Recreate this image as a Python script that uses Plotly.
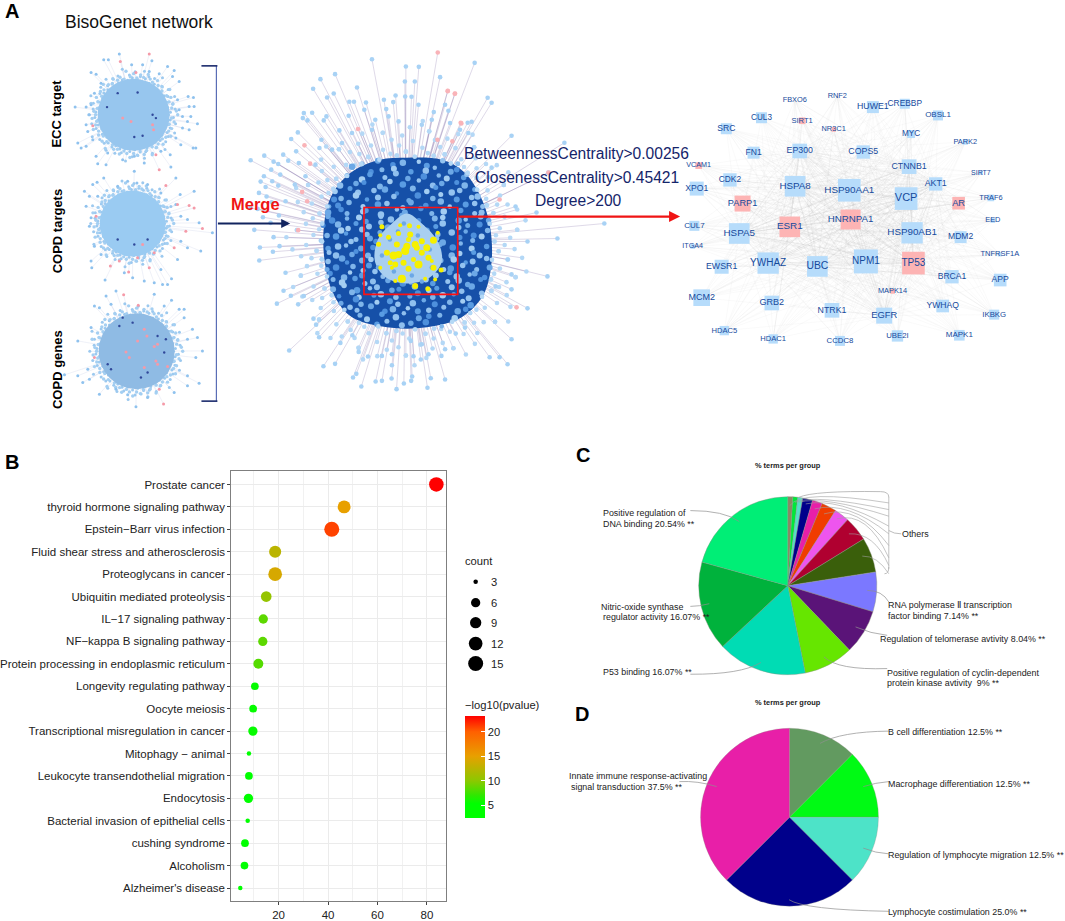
import numpy as np
import plotly.graph_objects as go

W, H = 1065, 921

# ---------- Panel B data ----------
terms = ["Prostate cancer", "thyroid hormone signaling pathway", "Epstein−Barr virus infection",
         "Fluid shear stress and atherosclerosis", "Proteoglycans in cancer", "Ubiquitin mediated proteolysis",
         "IL−17 signaling pathway", "NF−kappa B signaling pathway", "Protein processing in endoplasmic reticulum",
         "Longevity regulating pathway", "Oocyte meiosis", "Transcriptional misregulation in cancer",
         "Mitophagy − animal", "Leukocyte transendothelial migration", "Endocytosis",
         "Bacterial invasion of epithelial cells", "cushing syndrome", "Alcoholism", "Alzheimer's disease"]
enrichment = [83.8, 46.5, 41.5, 18.6, 18.6, 15, 13.8, 13.6, 11.8, 10.4, 9.7, 9.6, 8, 8, 7.8, 7.5, 6.4, 6.2, 4.5]
counts = [14, 11, 16, 10, 12, 8, 6, 6, 7, 5, 5, 6, 3, 5, 6, 3, 5, 5, 3]
neglogp = [23.2, 15, 21, 12.5, 14, 10.5, 8.5, 8.5, 8.2, 5.5, 5.5, 5.5, 4, 4.5, 5, 3.5, 3.5, 3.5, 3.5]
legend_counts = [3, 6, 9, 12, 15]
legend_diams = [4.5, 9.3, 11.3, 13.7, 15]
legend_y = [583, 604, 624, 645, 665]

# ---------- Panel C / D data ----------
c_values = [0.89, 0.89, 0.89, 1.79, 1.79, 2.68, 2.68, 4.46, 6.25, 7.14, 8.04, 8.93, 16.07, 16.07, 20.54]
c_colors = ["#8a8a62", "#00e83a", "#55e0c8", "#00008b", "#e81fa8", "#f03c00", "#ee55ee", "#b00030",
            "#3a5f0b", "#7b78ff", "#5a1478", "#66e600", "#00dcb4", "#00b23c", "#00ee76"]
d_values = [12.5, 12.5, 12.5, 25.0, 37.5]
d_colors = ["#629a60", "#00fa14", "#4de3c8", "#00008b", "#e81fa8"]

# ---------- Panel A: hub network ----------
nodes = [("FBXO6",462,90,0,"b",7.4),("RNF2",590,79,0,"b",7.4),("HUWE1",697,112,36,"b",8.8),("CREBBP",793,102,30,"b",8.4),
 ("OBSL1",893,137,30,"b",8),("SRC",256,177,33,"b",8.6),("CUL3",362,144,33,"b",8.2),("SIRT1",484,153,20,"p",7.6),
 ("NR3C1",579,179,14,"p",7.4),("MYC",812,193,24,"b",8.2),("PARK2",975,217,16,"b",7.4),("FN1",338,249,36,"b",8.6),
 ("EP300",477,244,44,"b",8.8),("COPS5",668,247,40,"b",8.8),("CTNNB1",806,291,44,"b",8.8),("SIRT7",1022,310,12,"b",7),
 ("VCAM1",173,288,20,"p",7.2),("CDK2",267,331,40,"b",8.4),("XPO1",167,357,42,"b",8.6),("HSPA8",463,350,62,"b",9.8),
 ("HSP90AA1",626,362,68,"b",9.9),("AKT1",886,343,40,"b",8.8),("VCP",797,387,68,"b",11),("AR",955,401,38,"p",9.2),
 ("TRAF6",1052,385,20,"b",7.4),("PARP1",305,402,48,"p",9.2),("ESR1",447,472,62,"p",9.9),("HNRNPA1",630,450,60,"p",9.7),
 ("HSPA5",295,492,62,"b",9.8),("HSP90AB1",815,490,64,"b",9.8),("MDM2",961,503,36,"b",8.6),("EED",1058,453,14,"b",7.4),
 ("CUL7",160,469,30,"b",8),("ITGA4",155,531,14,"b",7.2),("TNFRSF1A",1079,555,12,"b",7.5),("EWSR1",242,592,42,"b",8.8),
 ("YWHAZ",382,581,64,"b",10),("UBC",530,591,62,"b",10.4),("NPM1",676,576,72,"b",10),("TP53",819,581,68,"p",10),
 ("BRCA1",935,622,40,"b",8.6),("APP",1080,632,38,"b",8.6),("MCM2",182,685,50,"b",9),("GRB2",393,701,44,"b",9),
 ("NTRK1",574,723,44,"b",8.8),("MAPK14",756,666,14,"p",7.4),("EGFR",731,739,48,"b",9.4),("YWHAQ",907,710,38,"b",8.6),
 ("IKBKG",1062,736,30,"b",7.8),("HDAC5",250,784,28,"b",7.6),("HDAC1",397,809,28,"b",7.6),("CCDC8",598,815,30,"b",7.8),
 ("UBE2I",771,800,34,"b",7.8),("MAPK1",957,798,32,"b",8)]
hubs = ["HSP90AA1","HSP90AB1","VCP","NPM1","TP53","ESR1","HNRNPA1","HSPA5","HSPA8","YWHAZ","UBC","EGFR","EP300","CTNNB1","AKT1"]

merged_top = [(420,28),(522,50),(561,51),(625,82),(519,95),(549,95),(265,88),(309,73),(243,117),(375,113),(285,143),(305,131),
 (491,137),(539,141),(352,156),(366,156),(402,158),(456,150),(484,157),(215,190),(240,189),(212,205),(226,212),(283,200),(275,212),
 (350,198),(397,180),(463,178),(606,187),(650,183),(197,248),(177,268),(268,270),(192,305),(262,295),(322,242),(55,332),(96,318),
 (153,315),(124,336),(168,333),(117,360),(138,343),(144,375),(95,380),(120,395),(85,396),(100,412),(138,408),(188,405),(80,430),
 (103,441),(118,458),(160,455),(200,340),(76,478),(54,475),(92,503),(140,498),(115,520),(640,165),(655,220),(685,240),(710,250),
 (430,210),(520,140),(560,165),(600,210),(470,200),(330,280),(300,300),(250,345),(220,380),(360,250),(420,240),(500,215),(570,225)]
merged_top_pink = [(618,8),(648,124),(670,131),(689,221),(217,287),(378,238),(234,342),(210,427),(225,455),(617,270),(662,275)]
merged_bot = [(66,31),(124,53),(83,84),(142,80),(122,97),(81,123),(160,160),(154,214),(176,229),(134,253),(198,255),(215,230),(244,298),
 (252,316),(261,354),(171,394),(274,441),(309,434),(325,371),(361,348),(380,398),(408,412),(450,410),(480,405),(480,438),(363,475),
 (373,464),(388,502),(431,487),(450,485),(479,478),(494,510),(516,493),(538,485),(541,472),(587,506),(597,477),(640,481),(545,411),
 (567,421),(590,405),(629,410),(640,390),(570,375),(537,365),(672,343),(700,325)]
merged_bot_pink = [(198,32)]
merged_right = [(510,136),(563,143),(490,168),(547,173),(535,213),(603,224),(556,239),(546,277),(526,309),(506,365),(488,358),
 (498,358),(526,242),(510,275),(494,287),(510,290),(514,207),(466,123),(470,122),(486,98),(473,63),(490,103),(506,260),(510,340)]
merged_right_pink = [(515,308),(498,200),(547,173),(459,123),(453,94),(446,91)]

dark_outline = [(404,158),(440,160),(462,172),(478,195),(488,225),(490,262),(482,295),(460,318),(425,328),(385,328),
                (350,318),(333,298),(323,265),(322,225),(330,195),(350,172),(378,160)]
inner_outline = [(405,214),(420,224),(436,242),(440,262),(428,278),(405,284),(384,278),(373,262),(376,240),(390,224)]
inner_specks = [(388,240),(396,232),(416,236),(428,250),(380,256),(392,272),(410,276),(430,268),(402,224),(376,268),(420,282),(398,256)]

core_rows = {
 163:[362,375,388,402,415,428,441,454],
 170:[352,368,381,394,408,421,434,447,458],
 177:[345,358,370,382,395,408,421,434,446,460,468],
 184:[338,352,364,377,389,403,416,428,441,453,466],
 191:[333,346,358,371,384,397,410,422,435,448,461,473],
 198:[330,341,353,366,378,391,404,417,429,442,455,468,478],
 205:[326,337,349,360,373,386,399,412,424,437,450,463,474,483],
 212:[325,336,346,359,367,379,393,405,418,431,444,458,470,481],
 219:[324,333,345,355,366,378,390,402,416,430,442,455,467,479,485],
 226:[323,335,347,356,366,376,387,398,409,420,432,443,456,467,480],
 233:[324,336,345,358,368,378,390,402,414,426,438,449,461,473,484],
 240:[322,334,347,356,367,375,386,397,408,421,433,444,458,469,482],
 247:[325,337,346,358,368,379,392,404,416,428,440,450,460,472,484],
 254:[324,335,348,357,366,377,388,400,412,424,436,447,459,470,481],
 261:[326,338,347,359,370,381,394,406,418,430,442,452,462,473,484],
 268:[326,336,350,358,368,380,392,404,416,428,441,450,463,474,485],
 275:[329,340,351,360,371,383,396,409,421,433,445,456,466,476,483],
 282:[329,342,352,364,373,385,398,410,422,434,446,455,468,478],
 289:[332,344,354,365,376,388,400,413,425,437,449,461,472],
 296:[336,347,358,370,382,394,406,418,430,442,454,466,477],
 303:[340,352,362,375,386,398,410,423,435,447,458,470],
 310:[346,358,369,381,393,405,417,429,441,453,465],
 317:[356,368,380,392,404,416,428,440,452],
 324:[372,386,398,412,424,438],
}
jit_x = [-2, 1, 3, -1, 2, -3, 0, 2, -2, 1, -1]
jit_y = [1, -2, 2, 0, -1, 3, -2, 1, -3, 2, 0, -1, 2]
core_sizes = [5, 6, 5.5, 6.5, 4.5, 6, 5.5, 5, 6.5, 5.5]
core_cols = ["#8fbfee", "#6ca8e6", "#4e90dc", "#7fb5ea", "#a3cdf2", "#5a9ce2", "#94c3f0"]
rim_offsets = [2, 12, 22, 6, 30, 16, 0, 36, 9, 26, 4, 18]

merged_yellow = [(450,22),(505,17),(533,19),(560,22),(605,62),(445,47),(470,53),(500,42),(535,45),(570,65),(618,40),(440,74),(495,75),
 (525,80),(550,75),(585,85),(520,95),(485,108),(465,100),(500,105),(445,145),(475,130),(490,135),(515,130),(560,135),(590,115),(605,145),
 (628,152),(530,148),(510,178),(550,200),(588,208),(490,185),(580,178),(610,180),(480,145),(600,125),(545,120),(570,100),(530,60),(555,85)]
yellow_sizes = [5,4,5,4,7,4,5,5,6,6,4,5,6,7,7,7,8,8,6,7,4,5,6,6,8,6,6,5,6,8,6,5,4,4,4,4,4,5,6,5,6]

ecc_nodes = [(130,68),(145,73),(168,30),(182,30),(215,12),(252,45),(285,45),(313,33),(360,50),(380,62),(375,80),(335,72),(305,65),(395,95),
 (160,100),(130,165),(115,172),(82,172),(125,195),(115,225),(90,280),(100,295),(115,290),(145,320),(150,342),(175,345),(225,330),(290,340),
 (370,352),(368,315),(400,285),(437,295),(445,295),(422,140),(438,143),(425,170),(440,170),(430,200),(450,222),(425,240),(405,235),(420,215),
 (140,130),(390,150),(395,180),(405,200),(120,245),(135,270),(180,310),(260,320),(340,305),(385,265)]
ecc_pink = [(218,35),(305,12),(265,68),(135,228),(335,360),(325,315),(318,240),(315,225),(250,215),(225,205)]
ecc_dark = [(315,195),(325,205),(260,262),(285,258),(210,130),(270,128),(178,172)]
tgt_nodes = [(168,385),(148,398),(240,395),(260,365),(268,400),(385,385),(398,435),(440,425),(110,425),(125,440),(135,405),(115,470),
 (130,505),(125,530),(385,465),(400,500),(420,510),(150,440),(340,430),(300,405),(210,410),(455,520)]
tgt_pink = [(355,408),(390,465),(425,468),(440,475),(465,537),(145,500)]
tgt_nodes2 = [(130,95),(132,115),(172,152),(255,145),(290,155),(320,160),(345,165),(372,148),(360,165),(390,90),(420,55),(460,65),(495,10),
 (140,50),(160,75),(230,130),(340,120),(400,35)]
tgt_pink2 = [(188,110),(215,95),(243,128),(305,115),(380,55),(415,5),(270,85),(320,70),(285,45)]
tgt_dark2 = [(210,30),(260,45),(300,30)]
gen_nodes = [(175,200),(205,185),(140,230),(155,235),(320,195),(372,213),(410,240),(395,240),(410,265),(90,335),(435,300),(450,325),(465,365),
 (445,385),(50,437),(90,440),(105,460),(125,450),(155,495),(240,497),(265,533),(455,462),(420,470),(380,490),(130,295),(420,330),(190,225),
 (350,230),(300,505),(205,480),(420,440),(120,420)]
gen_pink = [(228,196),(272,228),(335,480),(348,525),(140,385),(320,352),(330,345),(235,368),(245,385),(325,395),(330,405),(360,412),(290,300),
 (298,320),(270,335),(290,415)]
gen_dark = [(190,420),(300,430),(350,370),(330,320),(215,290),(255,280),(225,265),(355,330),(180,405),(280,445)]


def px(x, y):
    return x / W, 1 - y / H


def crop(pts, ox, oy, sx=3.0, sy=3.0):
    return [(ox + p[0] / sx, oy + p[1] / sy) for p in pts]


fig = go.Figure()
OV = dict(xaxis="x2", yaxis="y2", hoverinfo="skip", showlegend=False)


def dots(pts, color, size, opacity=1.0):
    fig.add_trace(go.Scatter(x=[p[0] for p in pts], y=[p[1] for p in pts], mode="markers",
                             marker=dict(color=color, size=size, opacity=opacity, line=dict(width=0)), **OV))


def spokes(pts, cx, cy, color, width=0.8):
    xs, ys = [], []
    for p in pts:
        xs += [p[0], cx, None]
        ys += [p[1], cy, None]
    fig.add_trace(go.Scatter(x=xs, y=ys, mode="lines", line=dict(color=color, width=width), **OV))


def blob(outline, color):
    pts = outline + outline[:1]
    fig.add_trace(go.Scatter(x=[p[0] for p in pts], y=[p[1] for p in pts], mode="lines", fill="toself", fillcolor=color,
                             line=dict(color=color, width=0, shape="spline", smoothing=1), **OV))


def ring(cx, cy, r, step, spread, offs):
    out = []
    for k, a in enumerate(range(0, 360, step)):
        rr = r + spread * offs[k % len(offs)]
        out.append((cx + rr * np.cos(np.radians(a)), cy + rr * np.sin(np.radians(a))))
    return out


LB = "#a8d2f5"
small = [
    (crop(ecc_nodes, 45, 50), crop(ecc_pink, 45, 50), crop(ecc_dark, 45, 50), (131, 115), "#97c6ee", 72),
    (crop(tgt_nodes, 45, 50) + crop(tgt_nodes2, 45, 230), crop(tgt_pink, 45, 50) + crop(tgt_pink2, 45, 230),
     crop(tgt_dark2, 45, 230), (130, 224), "#9acbf2", 66),
    (crop(gen_nodes, 45, 230), crop(gen_pink, 45, 230), crop(gen_dark, 45, 230), (134, 352), "#8fbbe4", 76),
]
fine_offs = [0, 5, 2, 8, 1, 4, 10, 3, 6, 0, 7, 2, 12]
for n, pk, dk, c, col, d in small:
    rim = ring(c[0], c[1], d / 2 - 1, 4, 1.0, fine_offs)
    spokes(n + pk + rim, c[0], c[1], "rgba(150,160,205,0.25)", 0.6)
    dots(rim, "#9cc9ef", 3.0)
    dots(ring(c[0], c[1], d / 2 + 1, 5, 0.6, fine_offs[::-1]), "#a4cff2", 3.4)
    dots([c], col, d)
    dots(n, "#8fc2ee", 3.0)
    dots(pk, "#f59aa8", 3.0)
    dots(dk, "#30489a", 2.4)

# Merged network
mc = (404, 242)
m_nodes = crop(merged_top, 230, 50) + crop(merged_bot, 230, 220) + merged_right
m_pink = crop(merged_top_pink, 230, 50) + crop(merged_bot_pink, 230, 220) + merged_right_pink
outline_ang = np.degrees(np.arctan2([p[1] - mc[1] for p in dark_outline], [p[0] - mc[0] for p in dark_outline])) % 360
outline_rad = np.hypot([p[0] - mc[0] for p in dark_outline], [p[1] - mc[1] for p in dark_outline])
order = np.argsort(outline_ang)
halo = []
for k, a in enumerate(range(0, 360, 2)):
    rr = np.interp(a, outline_ang[order], outline_rad[order], period=360) + rim_offsets[k % len(rim_offsets)]
    halo.append((mc[0] + rr * np.cos(np.radians(a)), mc[1] + rr * np.sin(np.radians(a))))
spokes(m_nodes + m_pink + halo, mc[0], mc[1], "rgba(115,95,160,0.30)", 0.8)
dots(halo, "#b4d8f6", 4.6)
blob(dark_outline, "#1650a8")
core = []
for y, xs in core_rows.items():
    for x in xs:
        i = len(core)
        core.append((x + jit_x[i % len(jit_x)], y + jit_y[i % len(jit_y)]))
cs = [core_sizes[i % len(core_sizes)] for i in range(len(core))]
cc = [core_cols[i % len(core_cols)] for i in range(len(core))]
fig.add_trace(go.Scatter(x=[p[0] for p in core], y=[p[1] for p in core], mode="markers",
                         marker=dict(color=cc, size=cs, opacity=1, line=dict(width=0)), **OV))
dots(halo[::3], "#b4d8f6", 4.6)
blob(inner_outline, "#a9cff0")
dots(inner_specks, "#6ca8e6", 4.5)
dots(m_nodes, LB, 4.6)
dots(m_pink, "#f9b3b8", 4.6)
dots(crop(merged_yellow, 230, 220), "#f6f000", yellow_sizes)

# Hub network
names = [n[0] for n in nodes]
nx = [640 + n[1] / 3 for n in nodes]
ny = [70 + n[2] / 3 for n in nodes]
ex, ey = [], []
for h in hubs:
    i = names.index(h)
    for j in range(len(nodes)):
        if j != i:
            ex += [nx[i], nx[j], None]
            ey += [ny[i], ny[j], None]
fig.add_trace(go.Scatter(x=ex, y=ey, mode="lines", line=dict(color="rgba(185,185,185,0.09)", width=0.8), **OV))
fig.add_trace(go.Scatter(x=nx, y=ny, mode="markers+text", text=names,
                         textfont=dict(size=[n[5] for n in nodes], color="#164a9c", family="Liberation Sans"),
                         textposition="middle center",
                         marker=dict(symbol="square", size=[n[3] / 3 for n in nodes], opacity=1,
                                     color=["#b6dcfb" if n[4] == "b" else "#fdb4b4" for n in nodes],
                                     line=dict(width=0)), **OV))

fig.add_trace(go.Scatter(x=[474] * 5, y=legend_y, mode="markers",
                         marker=dict(color="black", size=legend_diams, opacity=1, line=dict(width=0)), **OV))

# Panel B
diam = np.interp(counts, legend_counts, legend_diams)
cscale = [[0, "#00ff00"], [0.14, "#00ff00"], [0.22, "#2ee800"], [0.365, "#8cc800"], [0.606, "#e8a000"], [0.846, "#ff6000"], [1, "#ff0000"]]
fig.add_trace(go.Scatter(
    x=enrichment, y=terms, mode="markers", showlegend=False, hoverinfo="skip",
    marker=dict(size=list(diam), color=neglogp, cmin=2.4, cmax=23.2, colorscale=cscale, opacity=1, line=dict(width=0),
                colorbar=dict(x=463 / W, xanchor="left", y=1 - 717.7 / H, yanchor="top", lenmode="pixels", len=102,
                              thicknessmode="pixels", thickness=20, outlinewidth=0, xpad=0, ypad=0,
                              tickvals=[5, 10, 15, 20], ticks="inside", ticklen=4, tickcolor="white",
                              tickfont=dict(size=11.2, color="#222", family="Liberation Sans")))))


def pie_domain(cx, cy, r):
    return dict(x=[(cx - r) / W, (cx + r) / W], y=[1 - (cy + r) / H, 1 - (cy - r) / H])


fig.add_trace(go.Pie(values=c_values, sort=False, direction="clockwise", rotation=0, textinfo="none", hoverinfo="skip",
                     marker=dict(colors=c_colors, line=dict(color="#8a8f80", width=0.4)), domain=pie_domain(787, 587, 89.3),
                     showlegend=False))
fig.add_trace(go.Pie(values=d_values, sort=False, direction="clockwise", rotation=0, textinfo="none", hoverinfo="skip",
                     marker=dict(colors=d_colors, line=dict(color="#8a8f80", width=0.3)), domain=pie_domain(788.7, 819, 89.2),
                     showlegend=False))

# ---------- Shapes ----------
shapes = []


def seg(x0, y0, x1, y1, color, width):
    shapes.append(dict(type="line", xref="x2", yref="y2", x0=x0, y0=y0, x1=x1, y1=y1, line=dict(color=color, width=width), layer="above"))


def curve(ox, oy, s, c, e, color="#8f8f8f", width=0.7):
    a = (ox + s[0] / 3, oy + s[1] / 3)
    b = (ox + c[0] / 3, oy + c[1] / 3)
    d = (ox + e[0] / 3, oy + e[1] / 3)
    shapes.append(dict(type="path", xref="x2", yref="y2", layer="above", line=dict(color=color, width=width),
                       path=f"M{a[0]:.1f},{a[1]:.1f} Q{b[0]:.1f},{b[1]:.1f} {d[0]:.1f},{d[1]:.1f}"))


seg(214, 66, 214, 402, "#5a6db5", 1.2)
seg(199, 66, 215, 66, "#1a2a6c", 1.6)
seg(199, 402, 215, 402, "#1a2a6c", 1.6)
shapes.append(dict(type="rect", xref="x2", yref="y2", x0=362, y0=208, x1=456, y1=295, layer="above",
                   line=dict(color="#ff1010", width=1.6)))

for s, c, e in [((535, 248), (490, 215), (388, 215)), ((445, 495), (415, 503), (388, 503)), ((600, 672), (540, 708), (388, 707)),
                ((920, 455), (965, 455), (985, 490)), ((885, 565), (930, 585), (980, 590)), ((790, 655), (830, 695), (980, 690))]:
    curve(560, 440, s, c, e)
for s, c, e in [((687, 200), (720, 150), (985, 192)), ((703, 190), (760, 165), (985, 212)), ((713, 190), (790, 170), (985, 232)),
                ((735, 195), (830, 175), (985, 262)), ((762, 210), (860, 185), (985, 285)), ((790, 225), (890, 195), (985, 320)),
                ((828, 240), (920, 215), (985, 357)), ((865, 285), (940, 280), (985, 380)), ((905, 352), (950, 350), (985, 405))]:
    curve(560, 440, s, c, e, "#a0a0a0", 0.6)
curve(560, 440, (715, 175), (760, 155), (960, 158), "#a0a0a0", 0.7)
curve(560, 440, (960, 158), (985, 158), (985, 175), "#a0a0a0", 0.7)
seg(888.3, 498, 888.3, 570, "#a8a8a8", 0.7)
curve(560, 440, (985, 385), (985, 405), (972, 405), "#a0a0a0", 0.7)
curve(560, 440, (985, 275), (1000, 285), (1022, 285), "#a0a0a0", 0.7)
for s, c, e in [((778, 150), (840, 115), (985, 113)), ((908, 280), (945, 268), (985, 265)), ((908, 465), (945, 480), (985, 482)),
                ((685, 620), (730, 650), (985, 655)), ((467, 280), (410, 262), (355, 265))]:
    curve(560, 695, s, c, e)

# ---------- Annotations ----------
ann = []
F = "Liberation Sans"


def txt(x, y, s, size, color="#222", anchor="left", bold=False, angle=0, family=F):
    xp, yp = px(x, y)
    ann.append(dict(x=xp, y=yp, xref="paper", yref="paper", text=f"<b>{s}</b>" if bold else s, showarrow=False,
                    xanchor=anchor, yanchor="middle", textangle=angle, font=dict(size=size, color=color, family=family),
                    borderpad=0, borderwidth=0))


def arrow(x0, y0, x1, y1, color, width, head):
    ann.append(dict(x=x1, y=y1, ax=x0, ay=y0, xref="x2", yref="y2", axref="x2", ayref="y2", text="", showarrow=True,
                    arrowcolor=color, arrowwidth=width, arrowhead=head, arrowsize=1))


arrow(214, 224, 288, 224, "#12245f", 1.8, 2)
arrow(456, 217, 679, 217, "#f01414", 2.2, 2)

txt(2, 11, "A", 20, "#000", bold=True)
txt(2, 463, "B", 20, "#000", bold=True)
txt(575, 456, "C", 20, "#000", bold=True)
txt(574, 716, "D", 20, "#000", bold=True)
txt(62, 22, "BisoGenet network", 17.5, "#111")
txt(54, 114, "ECC target", 13, "#000", "center", True, -90)
txt(55, 231, "COPD targets", 13, "#000", "center", True, -90)
txt(54, 370, "COPD genes", 13, "#000", "center", True, -90)
txt(253, 204, "Merge", 16.5, "#f01414", "center", True)
txt(575, 154, "BetweennessCentrality&gt;0.00256", 15.6, "#14246a", "center")
txt(576, 178, "ClosenessCentrality&gt;0.45421", 15.6, "#14246a", "center")
txt(577, 201, "Degree&gt;200", 15.6, "#14246a", "center")

txt(463, 562, "count", 11.2)
for v, y in zip(legend_counts, legend_y):
    txt(489, y, str(v), 11.2)
txt(463, 707, "−log10(pvalue)", 11.2)

txt(787.7, 466.7, "% terms per group", 7.4, "#222", "center", True)
SZ = 8.9
for x, y, s in [(602, 514, "Positive regulation of"), (602, 525, "DNA binding 20.54% **"),
                (600, 608, "Nitric-oxide synthase"), (602, 618.7, "regulator activity 16.07% **"),
                (602, 673.7, "P53 binding 16.07% **"), (888, 606.7, "RNA polymerase Ⅱ transcription"),
                (888, 617.7, "factor binding 7.14% **"), (879, 640, "Regulation of telomerase avtivity 8.04% **"),
                (886, 674, "Positive regulation of cyclin-dependent"), (886, 684.7, "protein kinase avtivity  9% **"),
                (902, 535, "Others"),
                (887, 734, "B cell differentiation 12.5% **"), (887, 785.3, "Macrophage differentiation 12.5% **"),
                (888, 856.7, "Regulation of lymphocyte migration 12.5% **"), (888, 914.3, "Lymphocyte costimulation 25.0% **"),
                (568, 778, "Innate immune response-activating"), (570, 789, "signal transduction 37.5% **")]:
    txt(x, y, s, SZ, "#222")
txt(787, 704.3, "% terms per group", 7.4, "#222", "center", True)

fig.update_layout(
    width=W, height=H, margin=dict(l=0, r=0, t=0, b=0), paper_bgcolor="white", plot_bgcolor="rgba(0,0,0,0)",
    showlegend=False, shapes=shapes, annotations=ann,
    xaxis=dict(domain=[229 / W, 444 / W], range=[0.89, 87.6], tickvals=[20, 40, 60, 80], showline=True, mirror=True,
               linecolor="#7f7f7f", linewidth=1.2, ticks="outside", ticklen=3, tickcolor="#444", gridcolor="#ebebeb", gridwidth=1,
               zeroline=False, tickfont=dict(size=11.5, color="#222", family=F),
               minor=dict(tickvals=[10, 30, 50, 70], showgrid=True, gridcolor="#f1f1f1", gridwidth=0.6, ticks="")),
    yaxis=dict(domain=[1 - 903 / H, 1 - 472.5 / H], type="category", categoryorder="array", categoryarray=terms,
               range=[18.58, -0.58], showline=True, mirror=True, linecolor="#7f7f7f", linewidth=1.2, ticks="outside", ticklen=3,
               tickcolor="#444", gridcolor="#ebebeb", gridwidth=1, tickmode="array", tickvals=terms, ticktext=terms,
               tickfont=dict(size=11.5, color="#222", family=F)),
    xaxis2=dict(domain=[0, 1], range=[0, W], visible=False, anchor="y2", fixedrange=True),
    yaxis2=dict(domain=[0, 1], range=[H, 0], visible=False, anchor="x2", fixedrange=True),
)

fig.write_html("out.html", config={"displayModeBar": False},
               post_script="document.body.style.margin='0';document.body.style.overflow='hidden';window.dispatchEvent(new Event('resize'));")
